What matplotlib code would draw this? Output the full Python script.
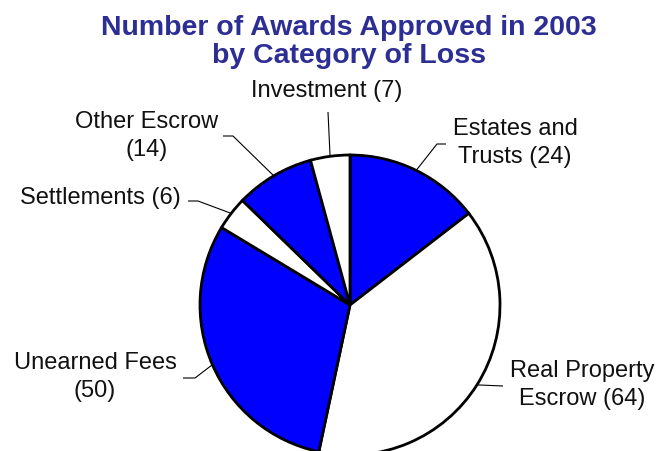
import matplotlib
matplotlib.use("Agg")
import matplotlib.pyplot as plt
import numpy as np

# ── data ────────────────────────────────────────────────────────────────────
categories = ["Estates and Trusts", "Real Property Escrow", "Unearned Fees",
              "Settlements", "Other Escrow", "Investment"]
counts = [24, 64, 50, 6, 14, 7]
fills = ["#0000FF", "white", "#0000FF", "white", "#0000FF", "white"]

title_lines = ["Number of Awards Approved in 2003", "by Category of Loss"]

# ── layout (pixel coordinates, origin top-left) ─────────────────────────────
W, H = 670, 451
CX, CY, R = 350, 305, 150

# words on the first label line (None = single line)
first_line_words = [2, 2, 2, None, 2, None]
# label centre, then leader path from the wedge edge outwards
label_pos = [(515, 143), (582, 385), (95, 377), (100, 198), (147, 136), (327, 91)]
leader_pts = [
    [(437, 144), (446, 144)],
    [(503, 386)],
    [(195, 378), (183, 378)],
    [(198, 201), (188, 201)],
    [(233, 136), (223, 136)],
    [(328, 112)],
]

FONT = "Liberation Sans"
TITLE_COLOR = "#2D2E94"


def px(x, y):
    # pixel position -> data coords (y up)
    return x, H - y


def label_text(cat, n, k):
    words = f"{cat} ({n})".split(" ")
    if k is None:
        return " ".join(words)
    return " ".join(words[:k]) + "\n" + " ".join(words[k:])


fig = plt.figure(figsize=(W / 100, H / 100), dpi=100)
ax = fig.add_axes([0, 0, 1, 1])

wedges, _ = ax.pie(counts, colors=fills, startangle=90, counterclock=False,
                   center=px(CX, CY), radius=R, frame=True,
                   wedgeprops=dict(edgecolor="black", linewidth=2.0))
ax.set_xlim(0, W)
ax.set_ylim(0, H)
ax.set_aspect("equal")
ax.axis("off")

# ── labels with leader lines ────────────────────────────────────────────────
for w, cat, n, k, (lx, ly), path in zip(wedges, categories, counts,
                                        first_line_words, label_pos, leader_pts):
    mid = np.deg2rad((w.theta1 + w.theta2) / 2)
    ex = w.center[0] + R * np.cos(mid)
    ey = w.center[1] + R * np.sin(mid)
    xs = [ex] + [px(*p)[0] for p in path]
    ys = [ey] + [px(*p)[1] for p in path]
    ax.plot(xs, ys, color="black", lw=0.8, solid_capstyle="butt", zorder=1)
    ax.text(*px(lx, ly), label_text(cat, n, k), ha="center", va="center",
            multialignment="center", linespacing=1.4,
            fontsize=17, family=FONT, color="#111111")

# ── title ───────────────────────────────────────────────────────────────────
for line, base in zip(title_lines, (35, 63)):
    ax.text(*px(349, base), line, ha="center", va="baseline",
            fontsize=20.5, fontweight="bold", family=FONT, color=TITLE_COLOR)

fig.savefig("out.png", dpi=100, facecolor="white")
